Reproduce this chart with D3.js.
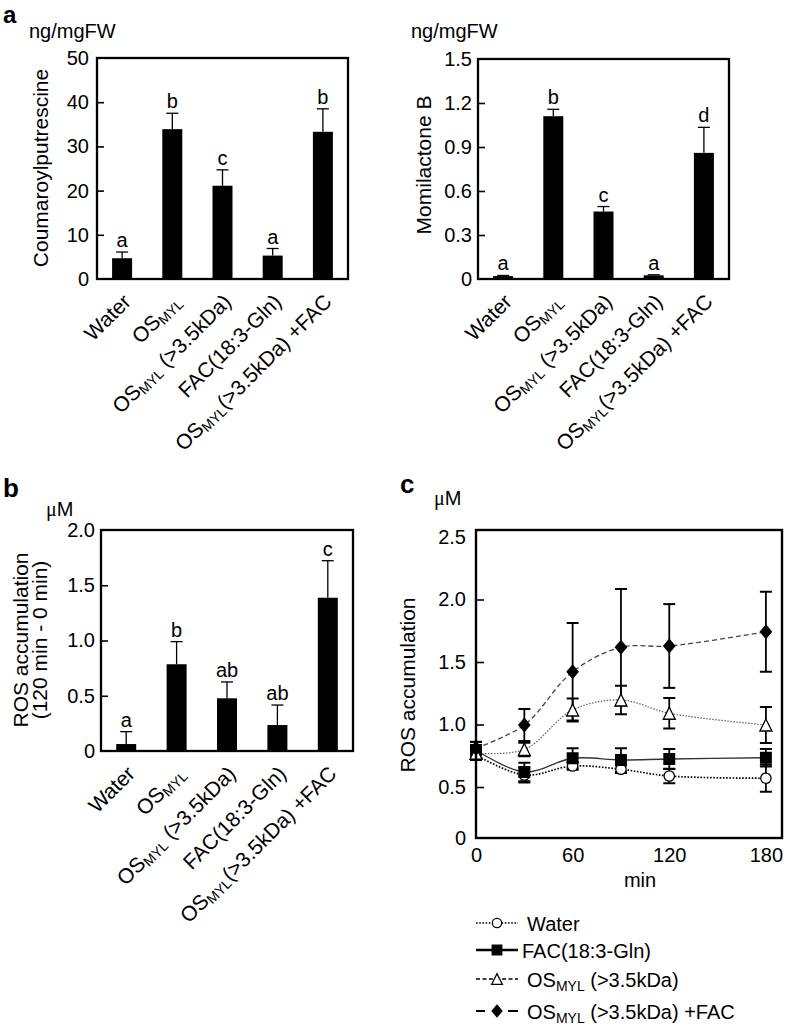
<!DOCTYPE html>
<html><head><meta charset="utf-8">
<script src="https://cdn.jsdelivr.net/npm/d3@7"></script>
<style>
body{margin:0;background:#fff}
svg{display:block}
text{font-family:"Liberation Sans",Arial,Helvetica,sans-serif;fill:#000;white-space:pre}
</style>
</head><body>
<svg id="chart" width="787" height="1026"></svg>
<script>
// ---------- DATA ----------
const groups = ["Water", "OS_{MYL}", "OS_{MYL} (>3.5kDa)", "FAC(18:3-Gln)", "OS_{MYL}(>3.5kDa) +FAC"];

const coumaroylMean = [4.7, 33.9, 21.1, 5.3, 33.3];
const coumaroylErr = [1.4, 3.6, 3.6, 1.6, 5.2];
const coumaroylLetters = ["a", "b", "c", "a", "b"];
const coumaroylTicks = [0, 10, 20, 30, 40, 50];

const momilactoneMean = [0.02, 1.11, 0.46, 0.025, 0.86];
const momilactoneErr = [0.004, 0.047, 0.034, 0.004, 0.174];
const momilactoneLetters = ["a", "b", "c", "a", "d"];
const momilactoneTicks = [0, 0.3, 0.6, 0.9, 1.2, 1.5];

const rosDeltaMean = [0.063, 0.785, 0.477, 0.235, 1.387];
const rosDeltaErr = [0.112, 0.205, 0.148, 0.181, 0.335];
const rosDeltaLetters = ["a", "b", "ab", "ab", "c"];
const rosDeltaTicks = [0, 0.5, 1.0, 1.5, 2.0];

const times = [0, 30, 60, 90, 120, 180];
const timeTicks = [0, 60, 120, 180];
const rosTicks = [0, 0.5, 1.0, 1.5, 2.0, 2.5];
const rosWater = [0.756, 0.596, 0.668, 0.642, 0.588, 0.57];
const rosWaterErr = [0.04, 0.06, 0.03, 0.03, 0.058, 0.108];
const rosFAC = [0.796, 0.62, 0.73, 0.716, 0.724, 0.734];
const rosFACErr = [0.066, 0.074, 0.08, 0.094, 0.08, 0.07];
const rosOS = [0.77, 0.80, 1.116, 1.196, 1.09, 0.996];
const rosOSErr = [0.04, 0.054, 0.092, 0.114, 0.122, 0.144];
const rosOSFAC = [0.81, 0.996, 1.422, 1.618, 1.628, 1.742];
const rosOSFACErr = [0.05, 0.128, 0.39, 0.466, 0.335, 0.32];
const legendLabels = ["Water", "FAC(18:3-Gln)", "OS_{MYL} (>3.5kDa)", "OS_{MYL} (>3.5kDa) +FAC"];

// ---------- HELPERS ----------
const svg = d3.select("#chart");
const FS = 20;

function parseLabel(s) {
  const parts = []; const re = /_\{([^}]*)\}/g; let last = 0, m;
  while ((m = re.exec(s))) {
    if (m.index > last) parts.push({t: s.slice(last, m.index), sub: false});
    parts.push({t: m[1], sub: true});
    last = re.lastIndex;
  }
  if (last < s.length) parts.push({t: s.slice(last), sub: false});
  return parts;
}
function richText(sel, s, subSize, shift) {
  const arr = parseLabel(s);
  arr.forEach((p, i) => {
    const ts = sel.append("tspan").text(p.t);
    if (p.sub) ts.attr("font-size", subSize).attr("dy", shift);
    else if (i > 0 && arr[i - 1].sub) ts.attr("dy", -shift);
  });
}

function styleAxis(ga) {
  ga.select(".domain").remove();
  ga.selectAll(".tick text").attr("font-size", FS).attr("fill", "#000");
  ga.selectAll(".tick line").attr("stroke", "#000").attr("stroke-width", 1.6);
}

function barPanel(o) {
  const x = d3.scaleBand().domain(groups).range([o.x0, o.x1]);
  const y = d3.scaleLinear().domain(o.domain).range([o.y1, o.y0]);
  const g = svg.append("g");
  const cx = d => x(d) + x.bandwidth() / 2;
  g.selectAll("rect.bar").data(groups).join("rect")
    .attr("x", d => cx(d) - 10).attr("width", 20)
    .attr("y", (d, i) => y(o.means[i]))
    .attr("height", (d, i) => y(0) - y(o.means[i]))
    .attr("fill", "#000");
  g.selectAll("line.err").data(groups).join("line")
    .attr("x1", cx).attr("x2", cx)
    .attr("y1", (d, i) => y(o.means[i]))
    .attr("y2", (d, i) => y(o.means[i] + o.errs[i]))
    .attr("stroke", "#000").attr("stroke-width", 1.3);
  g.selectAll("line.cap").data(groups).join("line")
    .attr("x1", d => cx(d) - 6).attr("x2", d => cx(d) + 6)
    .attr("y1", (d, i) => y(o.means[i] + o.errs[i]))
    .attr("y2", (d, i) => y(o.means[i] + o.errs[i]))
    .attr("stroke", "#000").attr("stroke-width", 1.3);
  g.selectAll("text.let").data(groups).join("text")
    .attr("x", cx).attr("y", (d, i) => y(o.means[i] + o.errs[i]) - 5)
    .attr("text-anchor", "middle").attr("font-size", FS)
    .text((d, i) => o.letters[i]);
  const ax = d3.axisLeft(y).tickValues(o.ticks).tickFormat(o.fmt).tickSize(-7).tickPadding(o.pad);
  const ga = g.append("g").attr("transform", `translate(${o.x0},0)`).call(ax);
  styleAxis(ga);
  ga.selectAll(".tick line").filter(d => d === o.domain[0] || d === o.domain[1]).remove();
  g.append("rect").attr("x", o.x0).attr("y", o.y0).attr("width", o.x1 - o.x0).attr("height", o.y1 - o.y0)
    .attr("fill", "none").attr("stroke", "#000").attr("stroke-width", 2.3);
  groups.forEach(d => {
    const t = g.append("text").attr("text-anchor", "end").attr("font-size", 21)
      .attr("transform", `translate(${cx(d) + 10},${o.y1 + 24}) rotate(-45)`);
    richText(t, d, 14, 3);
  });
  return {x, y};
}

// ---------- PANEL a (left) ----------
barPanel({x0: 97, x1: 348, y0: 58, y1: 279, domain: [0, 50], ticks: coumaroylTicks,
  fmt: d3.format("d"), means: coumaroylMean, errs: coumaroylErr, letters: coumaroylLetters, pad: 8});
// ---------- PANEL a (right) ----------
barPanel({x0: 478, x1: 729, y0: 59, y1: 279, domain: [0, 1.5], ticks: momilactoneTicks,
  fmt: d => d === 0 ? "0" : d.toFixed(1), means: momilactoneMean, errs: momilactoneErr, letters: momilactoneLetters, pad: 6});
// ---------- PANEL b ----------
barPanel({x0: 101, x1: 353, y0: 530, y1: 751, domain: [0, 2], ticks: rosDeltaTicks,
  fmt: d => d === 0 ? "0" : d.toFixed(1), means: rosDeltaMean, errs: rosDeltaErr, letters: rosDeltaLetters, pad: 6});

// panel letters and units
svg.append("text").attr("x", 3).attr("y", 23).attr("font-size", 24).attr("font-weight", "bold").text("a");
svg.append("text").attr("x", 3).attr("y", 497).attr("font-size", 26).attr("font-weight", "bold").text("b");
svg.append("text").attr("x", 400).attr("y", 493).attr("font-size", 26).attr("font-weight", "bold").text("c");
svg.append("text").attr("x", 29).attr("y", 38).attr("font-size", FS).text("ng/mgFW");
svg.append("text").attr("x", 411).attr("y", 38).attr("font-size", FS).text("ng/mgFW");
function muM(x, y) {
  const t = svg.append("text").attr("x", x).attr("y", y).attr("font-size", FS);
  t.append("tspan").attr("font-family", '"Liberation Serif","Times New Roman",serif').text("\u03bc");
  t.append("tspan").text("M");
}
muM(46, 516);
muM(434, 505);
function vtitle(x, y, s, fs) {
  svg.append("text").attr("transform", `translate(${x},${y}) rotate(-90)`).attr("text-anchor", "middle")
    .attr("font-size", fs || FS).text(s);
}
vtitle(48, 168, "Coumaroylputrescine", 21);
vtitle(431, 165, "Momilactone B", 21);
vtitle(28, 640, "ROS accumulation", 21);
vtitle(47, 640, "(120 min - 0 min)", 21);
vtitle(415, 685, "ROS accumulation", 21);

// ---------- PANEL c ----------
const cx0 = 476, cx1 = 782, cy0 = 530, cy1 = 838;
const xc = d3.scaleLinear().domain([0, 190]).range([cx0, cx1]);
const yc = d3.scaleLinear().domain([0.092, 2.556]).range([cy1, cy0]).clamp(true);
const gc = svg.append("g");

const diamondSym = {draw(ctx) { const w = 5.5, h = 6.5; ctx.moveTo(0, -h); ctx.lineTo(w, 0); ctx.lineTo(0, h); ctx.lineTo(-w, 0); ctx.closePath(); }};
const triSym = {draw(ctx) { const w = 6, h = 6; ctx.moveTo(0, -h); ctx.lineTo(w, h); ctx.lineTo(-w, h); ctx.closePath(); }};
const sqSym = {draw(ctx) { const s = 5.3; ctx.rect(-s, -s, 2 * s, 2 * s); }};
const circSym = {draw(ctx) { ctx.moveTo(5.2, 0); ctx.arc(0, 0, 5.2, 0, 2 * Math.PI); }};

const series = [
  {vals: rosWater, errs: rosWaterErr, sym: circSym, fill: "#fff", dash: "1.6,1.6", col: "#000", w: 1.7},
  {vals: rosFAC, errs: rosFACErr, sym: sqSym, fill: "#000", dash: null, col: "#333", w: 1.3},
  {vals: rosOS, errs: rosOSErr, sym: triSym, fill: "#fff", dash: "1.5,1.5", col: "#666", w: 1.3},
  {vals: rosOSFAC, errs: rosOSFACErr, sym: diamondSym, fill: "#000", dash: "5,3", col: "#444", w: 1.3}
];
const line = d3.line().x((d, i) => xc(times[i])).y(d => yc(d)).curve(d3.curveCatmullRom.alpha(0.5));
series.forEach(s => {
  gc.append("path").attr("d", line(s.vals)).attr("fill", "none").attr("stroke", s.col)
    .attr("stroke-width", s.w).attr("stroke-dasharray", s.dash);
});
series.forEach(s => {
  const ge = gc.append("g");
  s.vals.forEach((v, i) => {
    const X = xc(times[i]);
    ge.append("line").attr("x1", X).attr("x2", X).attr("y1", yc(v - s.errs[i])).attr("y2", yc(v + s.errs[i]))
      .attr("stroke", "#000").attr("stroke-width", 1.8);
    [v - s.errs[i], v + s.errs[i]].forEach(e => ge.append("line").attr("x1", X - 6).attr("x2", X + 6)
      .attr("y1", yc(e)).attr("y2", yc(e)).attr("stroke", "#000").attr("stroke-width", 2));
  });
});
series.forEach(s => {
  gc.selectAll(null).data(s.vals).join("path")
    .attr("d", d3.symbol().type(s.sym))
    .attr("transform", (d, i) => `translate(${xc(times[i])},${yc(d)})`)
    .attr("fill", s.fill).attr("stroke", "#000").attr("stroke-width", 1.3);
});
const gya = gc.append("g").attr("transform", `translate(${cx0},0)`)
  .call(d3.axisLeft(yc).tickValues(rosTicks).tickFormat(d => d === 0 ? "0" : d.toFixed(1)).tickSize(-8).tickPadding(10));
styleAxis(gya);
gya.selectAll(".tick line").filter(d => d === 0 || d === 2.5).remove();
const gxa = gc.append("g").attr("transform", `translate(0,${cy1})`)
  .call(d3.axisBottom(xc).tickValues(timeTicks).tickSize(0).tickPadding(10));
styleAxis(gxa);
gc.append("rect").attr("x", cx0).attr("y", cy0).attr("width", cx1 - cx0).attr("height", cy1 - cy0)
  .attr("fill", "none").attr("stroke", "#000").attr("stroke-width", 2.4);
svg.append("text").attr("x", 640).attr("y", 887).attr("text-anchor", "middle").attr("font-size", FS).text("min");

// legend
const legY = [923, 950, 979, 1011];
const legTx = [527, 522, 527, 527];
const legStyles = [
  {dash: "1.6,1.6", w: 1.5},
  {dash: null, w: 2.5},
  {dash: "4,2.5", w: 1.3},
  {dash: "9,23,10", w: 1.8}
];
series.forEach((s, k) => {
  const yy = legY[k];
  svg.append("line").attr("x1", 476).attr("x2", 518).attr("y1", yy).attr("y2", yy)
    .attr("stroke", "#000").attr("stroke-width", legStyles[k].w).attr("stroke-dasharray", legStyles[k].dash);
  svg.append("path").attr("d", d3.symbol().type(s.sym)).attr("transform", `translate(497,${yy}) scale(0.9)`)
    .attr("fill", s.fill).attr("stroke", "#000").attr("stroke-width", 1.4);
  const t = svg.append("text").attr("x", legTx[k]).attr("y", yy + 8).attr("font-size", FS);
  richText(t, legendLabels[k], 14, 4);
});
</script>
</body></html>
